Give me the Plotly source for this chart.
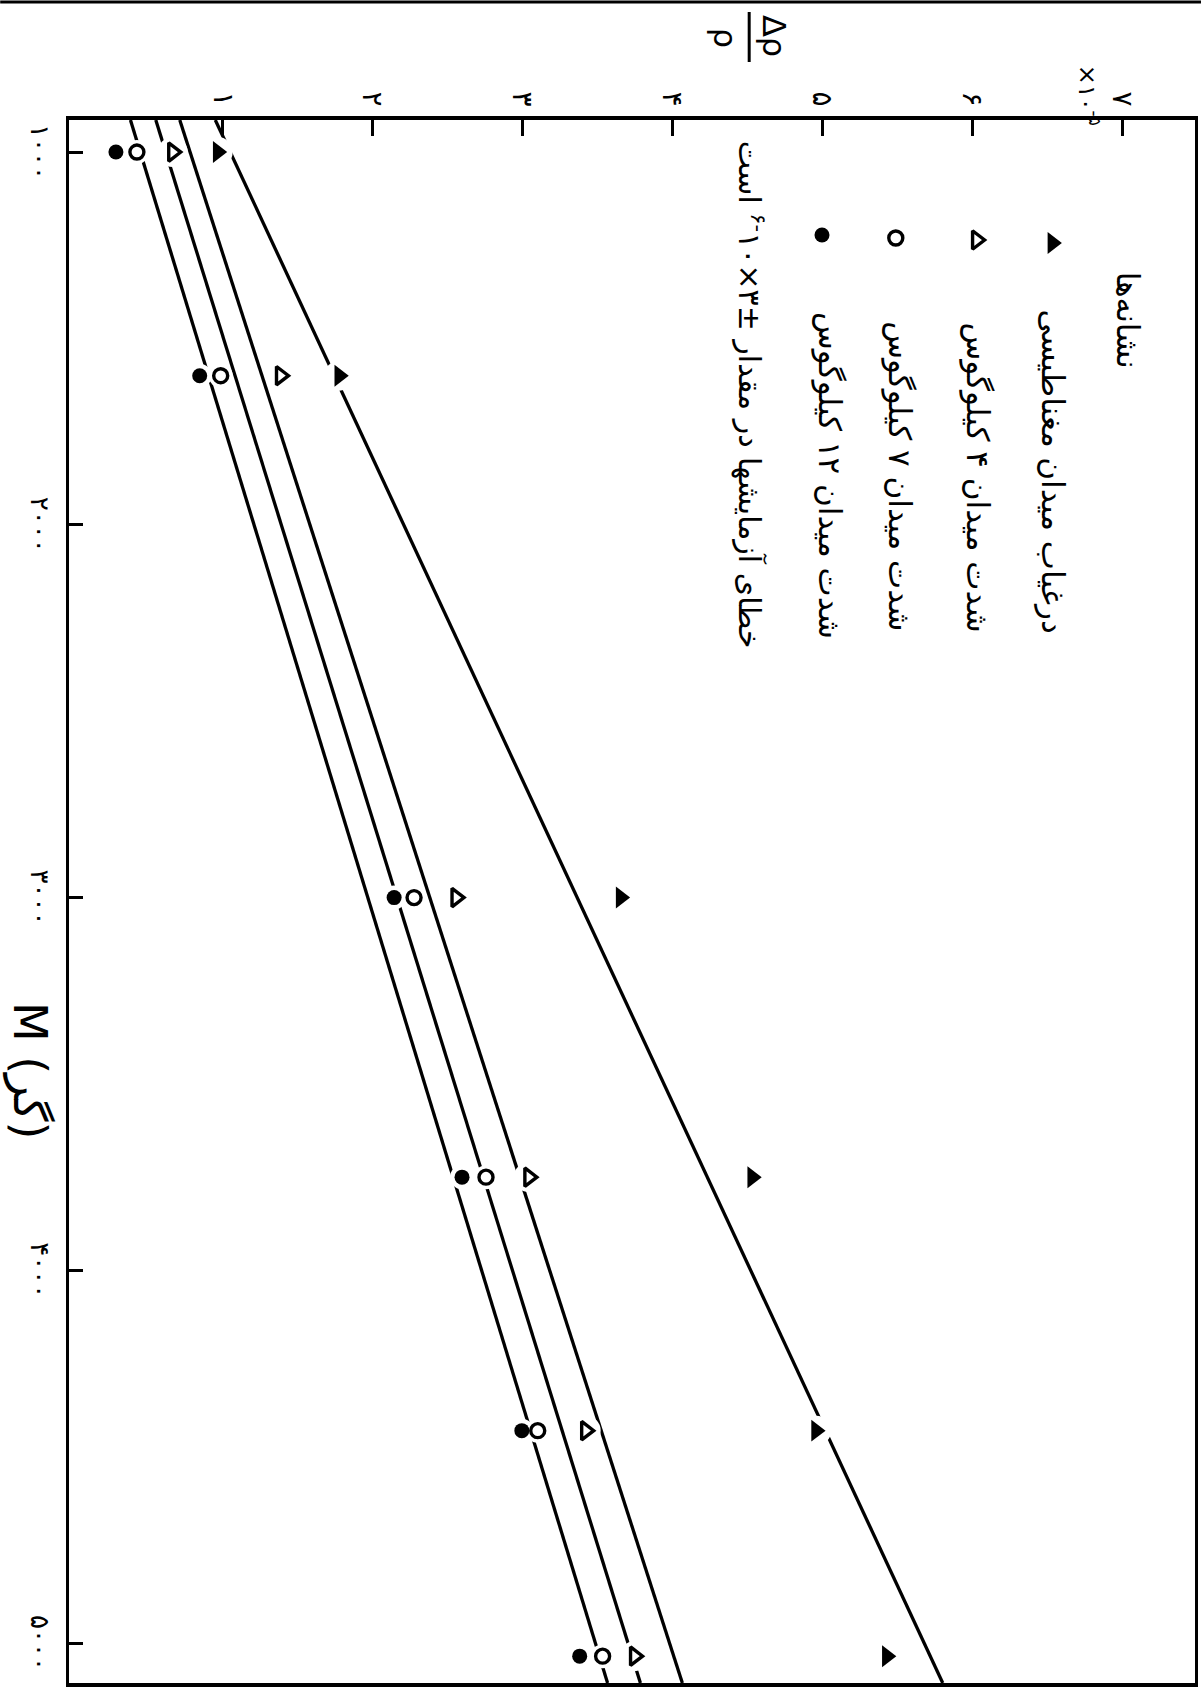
import plotly.graph_objects as go

# ---------------- data ----------------
M = [1000, 1600, 3000, 3750, 4430, 5035]
no_field = [0.967, 1.778, 3.655, 4.533, 4.959, 5.431]    # filled triangle
field_4kG = [0.667, 1.386, 2.557, 3.043, 3.422, 3.748]   # open triangle
field_7kG = [0.428, 0.987, 2.277, 2.757, 3.102, 3.535]   # open circle
field_12kG = [0.288, 0.847, 2.144, 2.597, 2.996, 3.382]  # filled circle

fit_M = [914, 5107]
fit_no_field = [0.951, 5.804]
fit_4kG = [0.714, 4.067]
fit_7kG = [0.554, 3.787]
fit_12kG = [0.385, 3.568]

x_tickvals = [1, 2, 3, 4, 5, 6, 7]
x_ticktext = ["۱", "۲", "۳", "۴", "۵", "۶", "۷"]
y_tickvals = [1000, 2000, 3000, 4000, 5000]
y_ticktext = ["۱۰۰۰", "۲۰۰۰", "۳۰۰۰", "۴۰۰۰", "۵۰۰۰"]

legend_title = "نشانه‌ها"
legend_labels = ["درغیاب میدان مغناطیسی", "شدت میدان ۴ کیلوگوس",
                 "شدت میدان ۷ کیلوگوس", "شدت میدان ۱۲ کیلوگوس"]
footnote = "خطای آزمایشها در مقدار ±۳×۱۰<sup>-۶</sup> است"

# ---------------- layout helpers ----------------
L, R, T, B = 69, 1198, 120, 1683
W, H = 1204, 1696
FONT = "DejaVu Sans"


def PX(x):
    return (x - L) / (R - L)


def PY(y):
    return (B - y) / (B - T)


def P(x, y):
    return dict(x=PX(x), y=PY(y), xref="paper", yref="paper")


fig = go.Figure()

# fitted straight lines
for fv in [fit_no_field, fit_4kG, fit_7kG, fit_12kG]:
    fig.add_trace(go.Scatter(x=fv, y=fit_M, mode="lines",
                             line=dict(color="black", width=3.3),
                             hoverinfo="skip", showlegend=False))

# white halos that break the lines around the points
for vals, hs in [(no_field, 30), (field_4kG, 30), (field_7kG, 24), (field_12kG, 24)]:
    fig.add_trace(go.Scatter(x=vals, y=M, mode="markers",
                             marker=dict(color="white", size=hs, line=dict(width=0)),
                             hoverinfo="skip", showlegend=False))

styles = [
    dict(symbol="triangle-right", size=19, color="black", line=dict(width=0)),
    dict(symbol="triangle-right-open", size=16, color="black", line=dict(width=3.4, color="black")),
    dict(symbol="circle-open", size=14, color="black", line=dict(width=3.4, color="black")),
    dict(symbol="circle", size=15, color="black", line=dict(width=0)),
]
for vals, st, name in zip([no_field, field_4kG, field_7kG, field_12kG], styles, legend_labels):
    fig.add_trace(go.Scatter(x=vals, y=M, mode="markers", marker=st, name=name,
                             showlegend=False))

# legend keys (hand-made legend, on a pixel-scaled overlay axis)
key_x = [1055, 979, 898, 824]
key_y = [243, 240, 238, 235]
for kx, ky, st in zip(key_x, key_y, styles):
    fig.add_trace(go.Scatter(x=[kx], y=[ky], mode="markers", marker=st,
                             xaxis="x2", yaxis="y2", hoverinfo="skip", showlegend=False))

ann = []


def text(x, y, s, size):
    d = P(x, y)
    d.update(text=s, showarrow=False, textangle=90, xanchor="center", yanchor="middle",
             font=dict(family=FONT, size=size, color="black"))
    ann.append(d)


text(1131, 320, legend_title, 31)
text(1056, 472, legend_labels[0], 31)
text(980, 477, legend_labels[1], 31)
text(902, 476, legend_labels[2], 31)
text(832, 476, legend_labels[3], 31)
text(752, 395, footnote, 30)
text(776, 36, "Δρ", 32)
text(727, 38, "ρ", 32)
text(1092, 95, "×۱۰<sup>-۵</sup>", 24)
text(30, 1071, "M (گر)", 46)

# M-axis tick labels, centred on their ticks (rotated like the rest of the page)
for tv, tt in zip(y_tickvals, y_ticktext):
    ann.append(dict(x=PX(40), xref="paper", y=tv, yref="y", text=tt, showarrow=False,
                    textangle=90, xanchor="center", yanchor="middle",
                    font=dict(family=FONT, size=26, color="black")))

shapes = [
    dict(type="line", xref="paper", yref="paper", line=dict(color="black", width=3),
         x0=PX(751), x1=PX(751), y0=PY(12), y1=PY(62)),
    dict(type="line", xref="paper", yref="paper", line=dict(color="black", width=3),
         x0=PX(0), x1=PX(W), y0=PY(2), y1=PY(2)),
]

fig.update_layout(
    width=W, height=H,
    margin=dict(l=L, r=W - R, t=T, b=H - B),
    paper_bgcolor="white", plot_bgcolor="white",
    showlegend=False,
    annotations=ann, shapes=shapes,
    xaxis=dict(range=[-0.025, 7.487], side="top", tickvals=x_tickvals, ticktext=x_ticktext,
               tickangle=90, ticks="inside", ticklen=16, tickwidth=2.5, tickcolor="black",
               showline=True, linewidth=3.5, linecolor="black", mirror=True,
               showgrid=False, zeroline=False,
               tickfont=dict(family=FONT, size=28, color="black")),
    yaxis=dict(range=[5107, 914], tickvals=y_tickvals, showticklabels=False,
               ticks="inside", ticklen=14, tickwidth=2.5, tickcolor="black",
               showline=True, linewidth=3, linecolor="black", mirror=True,
               showgrid=False, zeroline=False),
    xaxis2=dict(overlaying="x", range=[L, R], visible=False),
    yaxis2=dict(overlaying="y", range=[B, T], visible=False),
)

fig.write_html("out.html", config={"displayModeBar": False},
               post_script="document.body.style.margin='0px';")
